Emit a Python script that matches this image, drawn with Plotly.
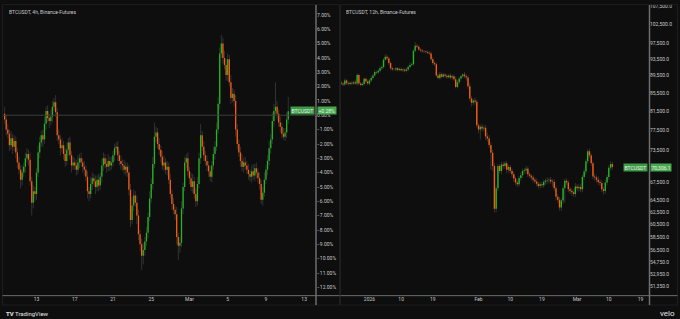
import plotly.graph_objects as go
import pandas as pd
import math

# ---------------- LEFT: BTCUSDT 4h, % change ----------------
l_start = "2026-02-09 16:00"
l_open0 = 0.1
l_close = [
    -0.3, -1.0,                              # Feb 9
    -1.3, -2.1, -1.6, -2.2, -1.8, -2.6,      # Feb 10
    -3.3, -3.8, -4.5, -4.0, -3.6, -3.0,      # Feb 11
    -2.7, -3.1, -4.6, -6.1, -5.3, -5.5,      # Feb 12
    -4.0, -2.6, -1.9, -1.4, -1.7, -0.6,      # Feb 13
    0.3, -0.2, -0.4, -0.1, 0.6, 0.9,         # Feb 14
    0.2, -1.4, -1.7, -2.3, -2.1, -2.7,       # Feb 15
    -3.2, -2.4, -1.9, -2.8, -3.5, -3.3,      # Feb 16
    -3.5, -3.8, -3.3, -3.0, -3.3, -3.6,      # Feb 17
    -3.8, -4.3, -5.3, -5.5, -4.8, -4.4,      # Feb 18
    -4.6, -5.0, -4.5, -4.9, -4.3, -3.5,      # Feb 19
    -3.0, -3.4, -3.6, -3.2, -3.5, -3.3,      # Feb 20
    -2.8, -2.3, -2.2, -2.8, -3.2, -3.4,      # Feb 21
    -3.5, -3.8, -3.6, -4.0, -5.2, -7.3,      # Feb 22
    -6.3, -5.6, -6.1, -7.0, -8.3, -9.0,      # Feb 23
    -9.8, -9.4, -8.8, -8.2, -7.1, -5.8,      # Feb 24
    -4.8, -3.4, -1.5, -1.2, -2.0, -2.4,      # Feb 25
    -2.9, -3.5, -3.3, -3.8, -3.6, -4.5,      # Feb 26
    -5.5, -6.2, -6.6, -6.9, -8.5, -9.1,      # Feb 27
    -8.9, -6.5, -5.0, -3.3, -3.0, -3.9,      # Feb 28
    -4.4, -5.0, -4.6, -5.5, -6.0, -4.8,      # Mar 1
    -3.0, -1.4, -2.2, -2.8, -3.2, -3.5,      # Mar 2
    -3.9, -4.3, -3.5, -2.7, -2.2, -1.0,      # Mar 3
    0.8, 4.3, 5.0, 4.0, 3.5, 2.8,            # Mar 4
    3.9, 2.3, 1.2, 1.5, 1.0, -1.0,           # Mar 5
    -2.0, -2.6, -3.2, -3.6, -3.3, -3.5,      # Mar 6
    -3.8, -4.1, -4.3, -3.9, -4.2, -3.7,      # Mar 7
    -4.0, -4.4, -4.8, -5.9, -5.4, -4.5,      # Mar 8
    -3.8, -3.2, -2.3, -1.7, -0.4, 0.3,       # Mar 9
    0.6, 0.1, -0.5, -0.8, -1.3, -1.5,        # Mar 10
    -1.2, -0.3, 0.28,                        # Mar 11
]
l_wick_up = [
    0.5, 0.3,
    0.4, 0.3, 0.5, 0.3, 0.4, 0.3,
    0.3, 0.4, 0.3, 0.5, 0.3, 0.4,
    0.4, 0.3, 0.5, 0.3, 0.4, 0.3,
    0.3, 0.5, 0.4, 0.3, 0.4, 0.5,
    0.3, 0.4, 0.3, 0.5, 0.4, 0.3,
    0.5, 0.3, 0.4, 0.3, 0.5, 0.3,
    0.4, 0.5, 0.3, 0.4, 0.3, 0.4,
    0.3, 0.4, 0.5, 0.3, 0.4, 0.3,
    0.4, 0.3, 0.4, 0.3, 0.5, 0.4,
    0.3, 0.4, 0.3, 0.4, 0.3, 0.5,
    0.4, 0.3, 0.4, 0.5, 0.3, 0.4,
    0.3, 0.3, 0.3, 0.4, 0.3, 0.4,
    0.3, 0.4, 0.3, 0.3, 0.5, 0.4,
    0.6, 0.4, 0.3, 0.5, 0.4, 0.3,
    0.4, 0.5, 0.3, 0.4, 0.3, 0.5,
    0.4, 0.5, 1.0, 0.4, 0.3, 0.4,
    0.3, 0.4, 0.5, 0.3, 0.4, 0.3,
    0.4, 0.3, 0.4, 0.3, 0.5, 0.3,
    0.4, 0.5, 0.3, 0.4, 0.3, 0.4,
    0.3, 0.4, 0.5, 0.3, 0.4, 0.5,
    0.4, 0.8, 0.3, 0.4, 0.3, 0.4,
    0.3, 0.4, 0.3, 0.5, 0.4, 0.5,
    0.5, 0.4, 0.6, 0.4, 0.5, 0.4,
    0.4, 0.3, 0.5, 0.4, 0.3, 0.4,
    0.4, 0.3, 0.4, 0.5, 0.3, 0.4,
    0.3, 0.4, 0.3, 0.4, 0.5, 0.3,
    0.4, 0.3, 0.4, 0.3, 0.4, 0.5,
    0.3, 0.4, 0.5, 0.4, 0.6, 0.5,
    1.7, 0.4, 0.3, 0.4, 0.3, 0.4,
    0.3, 0.5, 1.0,
]
l_wick_dn = [
    0.3, 0.4,
    0.3, 0.4, 0.3, 0.5, 0.3, 0.4,
    0.4, 0.3, 0.6, 0.4, 0.3, 0.4,
    0.3, 0.4, 0.3, 0.9, 0.4, 0.5,
    0.4, 0.3, 0.4, 0.3, 0.5, 0.3,
    0.4, 0.3, 0.5, 0.3, 0.4, 0.3,
    0.3, 0.4, 0.3, 0.5, 0.3, 0.4,
    0.4, 0.3, 0.4, 0.3, 0.5, 0.3,
    0.3, 0.4, 0.3, 0.4, 0.3, 0.4,
    0.4, 0.3, 0.5, 0.5, 0.3, 0.4,
    0.3, 0.5, 0.3, 0.4, 0.3, 0.4,
    0.4, 0.3, 0.4, 0.3, 0.4, 0.3,
    0.3, 0.4, 0.3, 0.4, 0.3, 0.4,
    0.4, 0.3, 0.4, 0.3, 0.4, 0.5,
    0.3, 0.4, 0.3, 0.6, 0.4, 0.5,
    1.0, 0.6, 0.4, 0.3, 0.4, 0.3,
    0.3, 0.4, 0.3, 0.4, 0.3, 0.4,
    0.4, 0.3, 0.4, 0.3, 0.4, 0.3,
    0.3, 0.4, 0.3, 0.4, 0.5, 1.0,
    0.5, 0.3, 0.4, 0.3, 0.4, 0.3,
    0.4, 0.3, 0.4, 0.3, 0.4, 0.3,
    0.3, 0.4, 0.3, 0.4, 0.3, 0.4,
    0.4, 0.3, 0.4, 0.3, 0.4, 0.3,
    0.3, 0.4, 0.3, 0.4, 0.3, 0.4,
    0.4, 0.3, 0.4, 0.3, 0.4, 0.5,
    0.4, 0.3, 0.4, 0.3, 0.4, 0.3,
    0.3, 0.4, 0.3, 0.4, 0.3, 0.4,
    0.4, 0.3, 0.4, 0.3, 0.4, 0.3,
    0.3, 0.4, 0.3, 0.4, 0.3, 0.4,
    0.3, 0.4, 0.3, 0.4, 0.3, 0.2,
    0.3, 0.4, 0.3,
]
l_ticks = [7, 6, 5, 4, 3, 2, 1, 0, -1, -2, -3, -4, -5, -6, -7, -8, -9, -10, -11, -12]
l_xticks = ["2026-02-13", "2026-02-17", "2026-02-21", "2026-02-25", "2026-03-01",
            "2026-03-05", "2026-03-09", "2026-03-13"]
l_xticktext = ["13", "17", "21", "25", "Mar", "5", "9", "13"]

# ---------------- RIGHT: BTCUSDT 12h, price ----------------
r_start = "2025-12-24 00:00"
r_open0 = 87800
r_close = [
    87600, 87400,  # Dec 24
    88300, 87700,  # Dec 25
    87500, 87800,  # Dec 26
    87600, 87900,  # Dec 27
    87600, 89600,  # Dec 28
    87600, 87300,  # Dec 29
    87500, 88700,  # Dec 30
    88100, 87600,  # Dec 31
    88300, 88900,  # Jan 1
    89500, 90300,  # Jan 2
    90200, 90600,  # Jan 3
    91200, 91500,  # Jan 4
    93300, 94000,  # Jan 5
    93600, 92500,  # Jan 6
    91200, 90900,  # Jan 7
    90900, 91200,  # Jan 8
    90800, 91000,  # Jan 9
    90700, 90900,  # Jan 10
    90600, 90900,  # Jan 11
    91500, 92000,  # Jan 12
    92200, 95500,  # Jan 13
    96800, 96500,  # Jan 14
    95800, 95600,  # Jan 15
    95400, 95300,  # Jan 16
    95200, 95000,  # Jan 17
    94800, 93400,  # Jan 18
    92500, 92200,  # Jan 19
    89500, 88900,  # Jan 20
    89800, 89200,  # Jan 21
    89700, 89400,  # Jan 22
    89100, 89500,  # Jan 23
    89000, 89300,  # Jan 24
    88600, 86800,  # Jan 25
    87900, 88800,  # Jan 26
    89300, 89700,  # Jan 27
    89300, 89000,  # Jan 28
    87000, 84200,  # Jan 29
    83300, 83800,  # Jan 30
    83500, 78500,  # Jan 31
    77600, 78200,  # Feb 1
    77800, 78000,  # Feb 2
    76200, 75800,  # Feb 3
    74500, 73000,  # Feb 4
    70500, 63000,  # Feb 5
    66500, 70500,  # Feb 6
    69600, 70800,  # Feb 7
    70500, 71000,  # Feb 8
    69800, 70300,  # Feb 9
    69600, 69000,  # Feb 10
    68200, 67500,  # Feb 11
    67200, 68300,  # Feb 12
    68800, 69600,  # Feb 13
    69700, 70000,  # Feb 14
    69000, 68700,  # Feb 15
    68400, 68000,  # Feb 16
    67700, 67300,  # Feb 17
    66900, 67200,  # Feb 18
    67000, 67600,  # Feb 19
    67800, 67900,  # Feb 20
    68000, 67700,  # Feb 21
    67600, 66500,  # Feb 22
    65000, 64500,  # Feb 23
    63200, 64400,  # Feb 24
    66500, 67800,  # Feb 25
    67500, 66300,  # Feb 26
    66000, 65800,  # Feb 27
    65500, 66800,  # Feb 28
    66500, 66700,  # Mar 1
    66300, 68500,  # Mar 2
    69500, 71400,  # Mar 3
    73300, 72500,  # Mar 4
    71000, 68600,  # Mar 5
    68400, 68000,  # Mar 6
    67600, 67400,  # Mar 7
    66300, 66000,  # Mar 8
    67500, 68500,  # Mar 9
    70200, 70900,  # Mar 10
    70306.1,       # Mar 11
]
r_wick_up = [
    400, 300, 500, 300, 400, 300, 300, 400, 500, 400, 300, 400, 400, 300, 300, 400,
    400, 500, 400, 500, 300, 400, 500, 400, 400, 700, 500, 400, 300, 400, 400, 300,
    300, 400, 400, 300, 300, 400, 400, 500, 500, 400, 900, 500, 400, 300, 400, 300,
    300, 400, 400, 500, 600, 400, 400, 500, 500, 400, 400, 300, 400, 300, 500, 400,
    400, 600, 500, 400, 400, 300, 600, 500, 500, 700, 500, 400, 600, 500, 400, 400,
    600, 500, 500, 800, 700, 600, 600, 500, 500, 400, 400, 500, 500, 400, 500, 400,
    400, 400, 500, 400, 400, 400, 500, 400, 400, 500, 400, 400, 300, 400, 400, 500,
    400, 400, 500, 400, 400, 500, 400, 500, 400, 500, 400, 500, 500, 400, 500, 400,
    400, 400, 400, 500, 500, 600, 400, 500, 600, 400, 500, 400, 400, 500, 400, 400,
    500, 400, 600, 500, 500, 400, 500, 400, 400, 500, 400,
]
r_wick_dn = [
    300, 400, 300, 400, 400, 300, 400, 300, 300, 500, 400, 300, 300, 400, 400, 300,
    400, 300, 400, 300, 400, 300, 300, 400, 400, 300, 400, 500, 400, 300, 300, 400,
    400, 300, 300, 400, 300, 400, 400, 300, 300, 400, 400, 300, 300, 400, 400, 300,
    400, 300, 300, 500, 500, 400, 400, 300, 400, 300, 300, 400, 400, 300, 400, 500,
    400, 300, 300, 400, 600, 400, 400, 700, 600, 500, 800, 600, 600, 500, 700, 2000,
    600, 500, 700, 600, 600, 3200, 900, 600, 600, 500, 500, 600, 500, 500, 600, 500,
    500, 600, 600, 500, 500, 400, 500, 500, 500, 600, 500, 400, 500, 500, 400, 500,
    500, 400, 500, 400, 500, 600, 500, 500, 800, 500, 600, 500, 500, 600, 600, 2500,
    500, 500, 500, 600, 500, 500, 500, 600, 500, 500, 500, 600, 500, 500, 500, 500,
    600, 500, 500, 500, 500, 600, 500, 500, 500, 500, 500,
]
r_ticks = [107500, 102500, 97500, 93500, 89500, 85500, 81500, 77500, 73500, 67500,
           64500, 62500, 60500, 58500, 56500, 54750, 52950, 51350]
r_xticks = ["2026-01-01", "2026-01-10", "2026-01-19", "2026-02-01", "2026-02-10",
            "2026-02-19", "2026-03-01", "2026-03-10", "2026-03-19"]
r_xticktext = ["2026", "10", "19", "Feb", "10", "19", "Mar", "10", "19"]

# ---------------- styling ----------------
W, H = 680, 319
BG = "#0e0e0e"
UP = "#1fba1f"
DN = "#ff5a0a"
WICK = "#323232"
AXIS = "#6e6e6e"
TXT = "#c9c9c9"
FONT = "Roboto"


def px_x(p):
    return p / W


def px_y(p):
    return 1 - p / H


def segments(start, freq, open0, closes, wu, wd):
    times = pd.date_range(start, periods=len(closes), freq=freq)
    opens = [open0] + closes[:-1]
    wx, wy, ux, uy, dx, dy = [], [], [], [], [], []
    for t, o, c, a, b in zip(times, opens, closes, wu, wd):
        ts = t.strftime("%Y-%m-%d %H:%M")
        hi = max(o, c) + a
        lo = min(o, c) - b
        wx += [ts, ts, None]
        wy += [lo, hi, None]
        if c >= o:
            ux += [ts, ts, None]
            uy += [o, c, None]
        else:
            dx += [ts, ts, None]
            dy += [o, c, None]
    return (wx, wy), (ux, uy), (dx, dy)


fig = go.Figure()

lw, lu, ld = segments(l_start, "4h", l_open0, l_close, l_wick_up, l_wick_dn)
rw, ru, rd = segments(r_start, "12h", r_open0, r_close, r_wick_up, r_wick_dn)

for (sx, sy), col, wdt, xa, ya in [
    (lw, WICK, 1, "x", "y"), (lu, UP, 1.3, "x", "y"), (ld, DN, 1.3, "x", "y"),
    (rw, WICK, 1, "x2", "y2"), (ru, UP, 1.4, "x2", "y2"), (rd, DN, 1.4, "x2", "y2"),
]:
    fig.add_trace(go.Scatter(x=sx, y=sy, mode="lines", xaxis=xa, yaxis=ya,
                             line=dict(color=col, width=wdt), hoverinfo="skip",
                             connectgaps=False))

ydom = [px_y(295), px_y(3)]
tickfont = dict(family=FONT, size=5, color=TXT)

fig.update_layout(
    width=W, height=H, margin=dict(l=0, r=0, t=0, b=0),
    paper_bgcolor=BG, plot_bgcolor=BG, showlegend=False, hovermode=False,
    xaxis=dict(domain=[px_x(3), px_x(316)], anchor="y", type="date",
               range=["2026-02-09 11:54", "2026-03-14 05:40"],
               tickvals=l_xticks, ticktext=l_xticktext, tickfont=tickfont,
               showgrid=False, zeroline=False, showline=False, ticks=""),
    yaxis=dict(domain=ydom, anchor="x", side="right", range=[-12.55, 7.69],
               tickvals=l_ticks,
               ticktext=[f"{v:.2f}%".replace("-", "\u2212") for v in l_ticks],
               tickfont=tickfont, showgrid=False, zeroline=False, showline=False, ticks=""),
    xaxis2=dict(domain=[px_x(341), px_x(649)], anchor="y2", type="date",
                range=["2025-12-23 22:00", "2026-03-21 10:00"],
                tickvals=r_xticks, ticktext=r_xticktext, tickfont=tickfont,
                showgrid=False, zeroline=False, showline=False, ticks=""),
    yaxis2=dict(domain=ydom, anchor="x2", side="right", type="log",
                range=[4.7005, 5.0324], tickvals=r_ticks,
                ticktext=[f"{v:,.1f}" for v in r_ticks],
                tickfont=tickfont, showgrid=False, zeroline=False, showline=False, ticks=""),
)

shapes = []
# panel frames
shapes.append(dict(type="rect", xref="paper", yref="paper", x0=px_x(2.5), x1=px_x(339.5),
                   y0=px_y(305), y1=px_y(2.5), line=dict(color="#1e1e1e", width=1)))
shapes.append(dict(type="rect", xref="paper", yref="paper", x0=px_x(340.5), x1=px_x(677.5),
                   y0=px_y(305), y1=px_y(2.5), line=dict(color="#1e1e1e", width=1)))
# axis lines
for xl, xr, xv in [(2.5, 339.5, 316), (340.5, 677.5, 649.5)]:
    shapes.append(dict(type="line", xref="paper", yref="paper", x0=px_x(xl), x1=px_x(xr),
                       y0=px_y(295.5), y1=px_y(295.5), line=dict(color=AXIS, width=1)))
    shapes.append(dict(type="line", xref="paper", yref="paper", x0=px_x(xv), x1=px_x(xv),
                       y0=px_y(305), y1=px_y(3), line=dict(color=AXIS, width=1.5)))
# zero line on % chart
shapes.append(dict(type="line", xref="paper", yref="y", x0=px_x(3), x1=px_x(316),
                   y0=0, y1=0, line=dict(color="#3d3d3d", width=1)))
fig.update_layout(shapes=shapes)

ann = []
ann.append(dict(text="BTCUSDT, 4h, Binance-Futures", xref="paper", yref="paper",
                x=px_x(7), y=px_y(10), xanchor="left", yanchor="middle", showarrow=False,
                font=dict(family=FONT, size=5, color=TXT)))
ann.append(dict(text="BTCUSDT, 12h, Binance-Futures", xref="paper", yref="paper",
                x=px_x(344), y=px_y(10), xanchor="left", yanchor="middle", showarrow=False,
                font=dict(family=FONT, size=5, color=TXT)))
# last price labels
l_last = l_close[-1]
r_last = r_close[-1]
lab_font = dict(family=FONT, size=5, color="#f2f2f2")
ann.append(dict(text="BTCUSDT", xref="paper", yref="y", x=px_x(315), y=l_last, yshift=1,
                xanchor="right", yanchor="middle", showarrow=False, bgcolor="#3b9a44",
                borderpad=0.5, font=lab_font))
ann.append(dict(text=f"{l_last:+.2f}%", xref="paper", yref="y", x=px_x(317), y=l_last, yshift=1,
                xanchor="left", yanchor="middle", showarrow=False, bgcolor="#45a94d",
                borderpad=0.5, font=lab_font))
ann.append(dict(text="BTCUSDT", xref="paper", yref="y2", x=px_x(648), y=math.log10(r_last),
                xanchor="right", yanchor="middle", showarrow=False, bgcolor="#3b9a44",
                borderpad=0.5, font=lab_font))
ann.append(dict(text=f"{r_last:,.1f}", xref="paper", yref="y2", x=px_x(650), y=math.log10(r_last),
                xanchor="left", yanchor="middle", showarrow=False, bgcolor="#45a94d",
                borderpad=0.5, font=lab_font))
# footer logos
ann.append(dict(text="<b>TV</b> TradingView", xref="paper", yref="paper", x=px_x(4), y=px_y(313),
                xanchor="left", yanchor="middle", showarrow=False,
                font=dict(family=FONT, size=6, color="#e6e6e6")))
ann.append(dict(text="velo", xref="paper", yref="paper", x=px_x(677), y=px_y(313),
                xanchor="right", yanchor="middle", showarrow=False,
                font=dict(family=FONT, size=8, color="#e6e6e6")))
fig.update_layout(annotations=ann)

fig.write_html("out.html")
